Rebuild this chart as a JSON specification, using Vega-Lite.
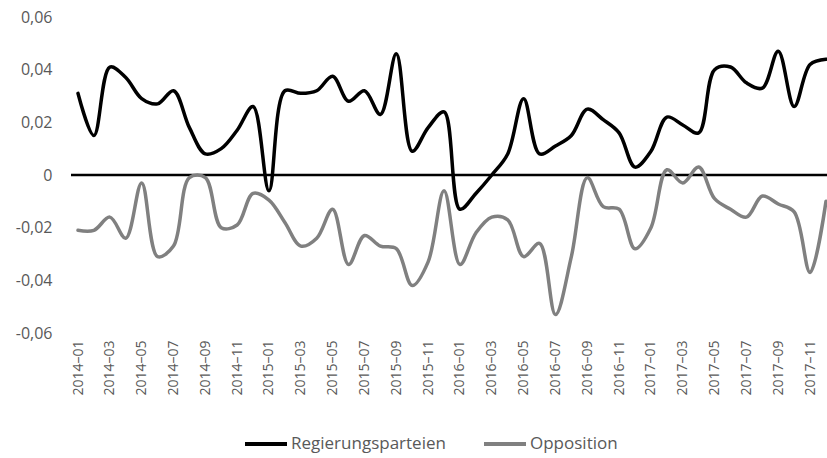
{
  "$schema": "https://vega.github.io/schema/vega-lite/v6.json",
  "width": 756,
  "height": 316,
  "autosize": {"type": "none"},
  "padding": {"left": 71, "top": 17, "right": 0, "bottom": 125},
  "background": "white",
  "config": {"view": {"stroke": null}, "font": "Open Sans"},
  "datasets": {
    "main": [
      {"month": "2014-01", "series": "Regierungsparteien", "value": 0.031},
      {"month": "2014-02", "series": "Regierungsparteien", "value": 0.015},
      {"month": "2014-03", "series": "Regierungsparteien", "value": 0.041},
      {"month": "2014-04", "series": "Regierungsparteien", "value": 0.037},
      {"month": "2014-05", "series": "Regierungsparteien", "value": 0.029},
      {"month": "2014-06", "series": "Regierungsparteien", "value": 0.027},
      {"month": "2014-07", "series": "Regierungsparteien", "value": 0.032},
      {"month": "2014-08", "series": "Regierungsparteien", "value": 0.018},
      {"month": "2014-09", "series": "Regierungsparteien", "value": 0.008},
      {"month": "2014-10", "series": "Regierungsparteien", "value": 0.010},
      {"month": "2014-11", "series": "Regierungsparteien", "value": 0.017},
      {"month": "2014-12", "series": "Regierungsparteien", "value": 0.026},
      {"month": "2015-01", "series": "Regierungsparteien", "value": -0.006},
      {"month": "2015-02", "series": "Regierungsparteien", "value": 0.032},
      {"month": "2015-03", "series": "Regierungsparteien", "value": 0.031},
      {"month": "2015-04", "series": "Regierungsparteien", "value": 0.032},
      {"month": "2015-05", "series": "Regierungsparteien", "value": 0.0375},
      {"month": "2015-06", "series": "Regierungsparteien", "value": 0.028},
      {"month": "2015-07", "series": "Regierungsparteien", "value": 0.032},
      {"month": "2015-08", "series": "Regierungsparteien", "value": 0.023},
      {"month": "2015-09", "series": "Regierungsparteien", "value": 0.046},
      {"month": "2015-10", "series": "Regierungsparteien", "value": 0.009},
      {"month": "2015-11", "series": "Regierungsparteien", "value": 0.018},
      {"month": "2015-12", "series": "Regierungsparteien", "value": 0.024},
      {"month": "2016-01", "series": "Regierungsparteien", "value": -0.013},
      {"month": "2016-02", "series": "Regierungsparteien", "value": -0.007},
      {"month": "2016-03", "series": "Regierungsparteien", "value": 0.000},
      {"month": "2016-04", "series": "Regierungsparteien", "value": 0.008},
      {"month": "2016-05", "series": "Regierungsparteien", "value": 0.029},
      {"month": "2016-06", "series": "Regierungsparteien", "value": 0.008},
      {"month": "2016-07", "series": "Regierungsparteien", "value": 0.011},
      {"month": "2016-08", "series": "Regierungsparteien", "value": 0.015},
      {"month": "2016-09", "series": "Regierungsparteien", "value": 0.025},
      {"month": "2016-10", "series": "Regierungsparteien", "value": 0.021},
      {"month": "2016-11", "series": "Regierungsparteien", "value": 0.016},
      {"month": "2016-12", "series": "Regierungsparteien", "value": 0.003},
      {"month": "2017-01", "series": "Regierungsparteien", "value": 0.009},
      {"month": "2017-02", "series": "Regierungsparteien", "value": 0.022},
      {"month": "2017-03", "series": "Regierungsparteien", "value": 0.019},
      {"month": "2017-04", "series": "Regierungsparteien", "value": 0.016},
      {"month": "2017-05", "series": "Regierungsparteien", "value": 0.040},
      {"month": "2017-06", "series": "Regierungsparteien", "value": 0.041},
      {"month": "2017-07", "series": "Regierungsparteien", "value": 0.035},
      {"month": "2017-08", "series": "Regierungsparteien", "value": 0.033},
      {"month": "2017-09", "series": "Regierungsparteien", "value": 0.047},
      {"month": "2017-10", "series": "Regierungsparteien", "value": 0.026},
      {"month": "2017-11", "series": "Regierungsparteien", "value": 0.042},
      {"month": "2017-12", "series": "Regierungsparteien", "value": 0.044},
      {"month": "2014-01", "series": "Opposition", "value": -0.021},
      {"month": "2014-02", "series": "Opposition", "value": -0.021},
      {"month": "2014-03", "series": "Opposition", "value": -0.016},
      {"month": "2014-04", "series": "Opposition", "value": -0.024},
      {"month": "2014-05", "series": "Opposition", "value": -0.003},
      {"month": "2014-06", "series": "Opposition", "value": -0.031},
      {"month": "2014-07", "series": "Opposition", "value": -0.027},
      {"month": "2014-08", "series": "Opposition", "value": -0.001},
      {"month": "2014-09", "series": "Opposition", "value": -0.001},
      {"month": "2014-10", "series": "Opposition", "value": -0.020},
      {"month": "2014-11", "series": "Opposition", "value": -0.019},
      {"month": "2014-12", "series": "Opposition", "value": -0.007},
      {"month": "2015-01", "series": "Opposition", "value": -0.0095},
      {"month": "2015-02", "series": "Opposition", "value": -0.018},
      {"month": "2015-03", "series": "Opposition", "value": -0.027},
      {"month": "2015-04", "series": "Opposition", "value": -0.024},
      {"month": "2015-05", "series": "Opposition", "value": -0.013},
      {"month": "2015-06", "series": "Opposition", "value": -0.034},
      {"month": "2015-07", "series": "Opposition", "value": -0.023},
      {"month": "2015-08", "series": "Opposition", "value": -0.027},
      {"month": "2015-09", "series": "Opposition", "value": -0.028},
      {"month": "2015-10", "series": "Opposition", "value": -0.042},
      {"month": "2015-11", "series": "Opposition", "value": -0.033},
      {"month": "2015-12", "series": "Opposition", "value": -0.006},
      {"month": "2016-01", "series": "Opposition", "value": -0.034},
      {"month": "2016-02", "series": "Opposition", "value": -0.022},
      {"month": "2016-03", "series": "Opposition", "value": -0.016},
      {"month": "2016-04", "series": "Opposition", "value": -0.017},
      {"month": "2016-05", "series": "Opposition", "value": -0.031},
      {"month": "2016-06", "series": "Opposition", "value": -0.026},
      {"month": "2016-07", "series": "Opposition", "value": -0.053},
      {"month": "2016-08", "series": "Opposition", "value": -0.031},
      {"month": "2016-09", "series": "Opposition", "value": -0.001},
      {"month": "2016-10", "series": "Opposition", "value": -0.012},
      {"month": "2016-11", "series": "Opposition", "value": -0.013},
      {"month": "2016-12", "series": "Opposition", "value": -0.028},
      {"month": "2017-01", "series": "Opposition", "value": -0.020},
      {"month": "2017-02", "series": "Opposition", "value": 0.002},
      {"month": "2017-03", "series": "Opposition", "value": -0.003},
      {"month": "2017-04", "series": "Opposition", "value": 0.003},
      {"month": "2017-05", "series": "Opposition", "value": -0.009},
      {"month": "2017-06", "series": "Opposition", "value": -0.013},
      {"month": "2017-07", "series": "Opposition", "value": -0.016},
      {"month": "2017-08", "series": "Opposition", "value": -0.008},
      {"month": "2017-09", "series": "Opposition", "value": -0.011},
      {"month": "2017-10", "series": "Opposition", "value": -0.014},
      {"month": "2017-11", "series": "Opposition", "value": -0.037},
      {"month": "2017-12", "series": "Opposition", "value": -0.010}
    ]
  },
  "layer": [
    {
      "data": {"values": [{"ref": "zero"}]},
      "mark": {"type": "rule", "color": "#000000", "strokeWidth": 2.5},
      "encoding": {"y": {"datum": 0, "type": "quantitative"}}
    },
    {
      "data": {"name": "main"},
      "mark": {"type": "line", "interpolate": "catmull-rom", "strokeWidth": 3.5, "strokeCap": "round", "strokeJoin": "round"},
      "encoding": {
        "x": {
          "field": "month",
          "type": "ordinal",
          "scale": {"type": "point", "padding": 0, "range": [7, 755]},
          "axis": {
            "title": null,
            "values": ["2014-01","2014-03","2014-05","2014-07","2014-09","2014-11","2015-01","2015-03","2015-05","2015-07","2015-09","2015-11","2016-01","2016-03","2016-05","2016-07","2016-09","2016-11","2017-01","2017-03","2017-05","2017-07","2017-09","2017-11"],
            "labelExpr": "replace(datum.label, '-', '–')",
            "labelAngle": -90,
            "ticks": false,
            "domain": false,
            "grid": false,
            "labelPadding": 7,
            "labelFontSize": 14,
            "labelColor": "#595959"
          }
        },
        "y": {
          "field": "value",
          "type": "quantitative",
          "scale": {"domain": [-0.06, 0.06], "nice": false, "zero": false},
          "axis": {
            "title": null,
            "values": [-0.06, -0.04, -0.02, 0, 0.02, 0.04, 0.06],
            "labelExpr": "datum.value == 0 ? '0' : replace(replace(format(datum.value, '.2f'), '.', ','), '−', '-')",
            "domain": false,
            "ticks": false,
            "labelPadding": 19,
            "labelFontSize": 16,
            "labelColor": "#595959",
            "gridColor": "#d9d9d9",
            "gridWidth": 1
          }
        },
        "color": {
          "field": "series",
          "type": "nominal",
          "scale": {"domain": ["Regierungsparteien", "Opposition"], "range": ["#000000", "#808080"]},
          "legend": {
            "title": null,
            "orient": "none",
            "legendX": 172,
            "legendY": 404,
            "direction": "horizontal",
            "symbolType": "stroke",
            "symbolSize": 1764,
            "symbolStrokeWidth": 4,
            "labelFontSize": 17,
            "labelColor": "#595959",
            "columnPadding": 30,
            "labelOffset": 2
          }
        }
      }
    }
  ]
}
